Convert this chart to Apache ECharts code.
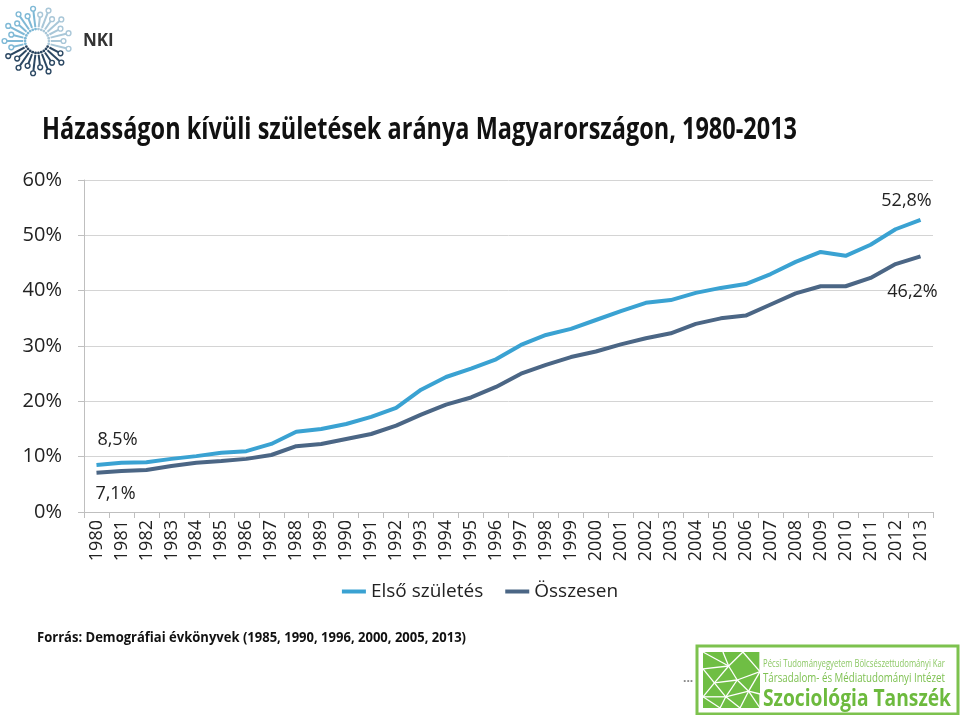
<!DOCTYPE html>
<html>
<head>
<meta charset="utf-8">
<script src="https://cdn.jsdelivr.net/npm/echarts@6/dist/echarts.min.js"></script>
<style>html,body{margin:0;padding:0;background:#fff;}#chart{width:960px;height:715px;}</style>
</head>
<body>
<div id="chart"></div>
<script>
const years = ['1980','1981','1982','1983','1984','1985','1986','1987','1988','1989','1990','1991','1992','1993','1994','1995','1996','1997','1998','1999','2000','2001','2002','2003','2004','2005','2006','2007','2008','2009','2010','2011','2012','2013'];
const elsoSzuletes = [8.5,8.9,9.0,9.6,10.1,10.7,11.0,12.3,14.5,15.0,15.9,17.2,18.8,22.1,24.4,25.9,27.6,30.2,32.0,33.1,34.7,36.3,37.8,38.3,39.6,40.5,41.2,43.0,45.2,47.0,46.3,48.3,51.1,52.8];
const osszesen = [7.1,7.4,7.6,8.3,8.9,9.2,9.6,10.3,11.9,12.3,13.2,14.1,15.6,17.6,19.4,20.7,22.6,25.0,26.6,28.0,29.0,30.3,31.4,32.3,34.0,35.0,35.5,37.5,39.5,40.8,40.8,42.3,44.8,46.2];
const seriesNames = ['Első születés','Összesen'];
const yTicks = [0,10,20,30,40,50,60];
const titleText = 'Házasságon kívüli születések aránya Magyarországon, 1980-2013';
const sourceText = 'Forrás: Demográfiai évkönyvek (1985, 1990, 1996, 2000, 2005, 2013)';

const cLight = '#3AA2D2';
const cDark = '#4B6685';
const F = '"Open Sans", "Noto Sans", sans-serif';

const mctx = document.createElement('canvas').getContext('2d');
function fitScale(text, font, w) { mctx.font = font; return w / mctx.measureText(text).width; }

function fmt(v) { return String(v.toFixed(1)).replace('.', ',') + '%'; }

function withLabels(arr, pos, firstOff, lastOff) {
  return arr.map((v, i) => {
    if (i === 0 || i === arr.length - 1) {
      return { value: v, label: { show: true, position: pos, offset: i === 0 ? firstOff : lastOff,
        formatter: fmt(v), fontFamily: F, fontSize: 18, color: '#222' } };
    }
    return v;
  });
}

const titleFont = 'bold 31px ' + F;
const titleScale = fitScale(titleText, titleFont, 755);
const srcFont = 'bold 14px ' + F;
const srcScale = fitScale(sourceText, srcFont, 429);

const t1 = 'Pécsi Tudományegyetem Bölcsészettudományi Kar';
const t2 = 'Társadalom- és Médiatudományi Intézet';
const t3 = 'Szociológia Tanszék';
const f1 = '10px ' + F, f2 = '13px ' + F, f3 = 'bold 23px ' + F;
const s1 = fitScale(t1, f1, 182), s2 = fitScale(t2, f2, 182), s3 = fitScale(t3, f3, 188);

// NKI logo spokes
const logo = [];
const cx = 37, cy = 41;
for (let k = 0; k < 26; k++) {
  const a = k / 26 * Math.PI * 2;
  const r0 = 14, r1 = 24 + (k % 2) * 6;
  const col = (Math.sin(a) > 0.3) ? '#2C4863' : (Math.cos(a) < 0 ? '#7FB9D6' : '#A9C7D8');
  logo.push({ type: 'line', shape: { x1: cx + r0 * Math.cos(a), y1: cy + r0 * Math.sin(a), x2: cx + r1 * Math.cos(a), y2: cy + r1 * Math.sin(a) }, style: { stroke: col, lineWidth: 2 } });
  logo.push({ type: 'circle', shape: { cx: cx + (r1 + 2.5) * Math.cos(a), cy: cy + (r1 + 2.5) * Math.sin(a), r: 2.4 }, style: { fill: 'none', stroke: col, lineWidth: 1.4 } });
  logo.push({ type: 'circle', shape: { cx: cx + 12 * Math.cos(a), cy: cy + 12 * Math.sin(a), r: 1.4 }, style: { fill: col } });
}

// green mesh logo lines
const gx = 703, gy = 652, gw = 57, gh = 56;
const pts = [[0,0],[0.35,0],[0.7,0],[1,0],[0,0.3],[0.45,0.25],[1,0.35],[0.2,0.55],[0.6,0.5],[0,0.8],[0.4,0.8],[0.8,0.7],[1,0.75],[0,1],[0.3,1],[0.65,1],[1,1]];
const edges = [[0,5],[1,5],[2,5],[2,6],[4,5],[5,8],[5,7],[4,7],[6,8],[3,6],[7,8],[8,11],[6,11],[7,10],[8,10],[9,7],[9,10],[10,11],[11,12],[10,14],[10,15],[11,15],[12,16],[9,14],[11,16]];
const mesh = edges.map(e => ({ type: 'line', shape: { x1: gx + pts[e[0]][0] * gw, y1: gy + pts[e[0]][1] * gh, x2: gx + pts[e[1]][0] * gw, y2: gy + pts[e[1]][1] * gh }, style: { stroke: '#fff', lineWidth: 1.3 } }));

const chart = echarts.init(document.getElementById('chart'), null, { renderer: 'canvas' });
chart.setOption({
  backgroundColor: '#fff',
  animation: false,
  grid: { left: 84, right: 27, top: 180, bottom: 203, containLabel: false },
  xAxis: {
    type: 'category', data: years, boundaryGap: true,
    axisLine: { lineStyle: { color: '#BFBFBF', width: 1 } },
    axisTick: { show: true, interval: 0, length: 6, lineStyle: { color: '#BFBFBF' } },
    axisLabel: { interval: 0, rotate: 90, margin: 8, fontFamily: F, fontSize: 18, color: '#222' }
  },
  yAxis: {
    type: 'value', min: yTicks[0], max: yTicks[yTicks.length - 1], interval: 10,
    axisLine: { show: true, lineStyle: { color: '#BFBFBF' } },
    axisTick: { show: true, length: 6, lineStyle: { color: '#BFBFBF' } },
    splitLine: { lineStyle: { color: '#D4D4D4', width: 1 } },
    axisLabel: { formatter: '{value}%', margin: 22, fontFamily: F, fontSize: 20, color: '#222' }
  },
  legend: {
    data: seriesNames, bottom: 109, left: 'center', icon: 'rect', itemWidth: 24, itemHeight: 4, itemGap: 22,
    textStyle: { fontFamily: F, fontSize: 19, color: '#222' }
  },
  series: [
    { name: seriesNames[0], type: 'line', data: withLabels(elsoSzuletes, 'top', [21, -11], [-14, -5]), showSymbol: true, symbol: 'circle', symbolSize: 0,
      lineStyle: { color: cLight, width: 4 }, itemStyle: { color: cLight } },
    { name: seriesNames[1], type: 'line', data: withLabels(osszesen, 'bottom', [19, 7], [-8, 22]), showSymbol: true, symbol: 'circle', symbolSize: 0,
      lineStyle: { color: cDark, width: 4 }, itemStyle: { color: cDark } }
  ],
  graphic: [
    { type: 'text', x: 42, y: 130, scaleX: titleScale, style: { text: titleText, font: titleFont, fill: '#111', align: 'left', verticalAlign: 'middle', textAlign: 'left', textVerticalAlign: 'middle' } },
    { type: 'text', x: 37, y: 638, scaleX: srcScale, style: { text: sourceText, font: srcFont, fill: '#111', align: 'left', verticalAlign: 'middle', textAlign: 'left', textVerticalAlign: 'middle' } },
    { type: 'text', x: 83, y: 41, style: { text: 'NKI', font: 'bold 17px ' + F, fill: '#333', align: 'left', verticalAlign: 'middle', textAlign: 'left', textVerticalAlign: 'middle' } },
    { type: 'group', children: logo },
    { type: 'rect', shape: { x: 697, y: 646, width: 261, height: 68 }, style: { fill: '#fff', stroke: '#7DC24E', lineWidth: 3 } },
    { type: 'rect', shape: { x: gx, y: gy, width: gw, height: gh }, style: { fill: '#6FBE44' } },
    { type: 'group', children: mesh },
    { type: 'text', x: 763, y: 664, scaleX: s1, style: { text: t1, font: f1, fill: '#8CC865', align: 'left', verticalAlign: 'middle', textAlign: 'left', textVerticalAlign: 'middle' } },
    { type: 'text', x: 763, y: 678, scaleX: s2, style: { text: t2, font: f2, fill: '#7EC152', align: 'left', verticalAlign: 'middle', textAlign: 'left', textVerticalAlign: 'middle' } },
    { type: 'text', x: 763, y: 699, scaleX: s3, style: { text: t3, font: f3, fill: '#6DBA3E', align: 'left', verticalAlign: 'middle', textAlign: 'left', textVerticalAlign: 'middle' } },
    { type: 'text', x: 683, y: 679, style: { text: '...', font: 'bold 12px ' + F, fill: '#888', align: 'left', verticalAlign: 'middle', textAlign: 'left', textVerticalAlign: 'middle' } }
  ]
});
</script>
</body>
</html>
